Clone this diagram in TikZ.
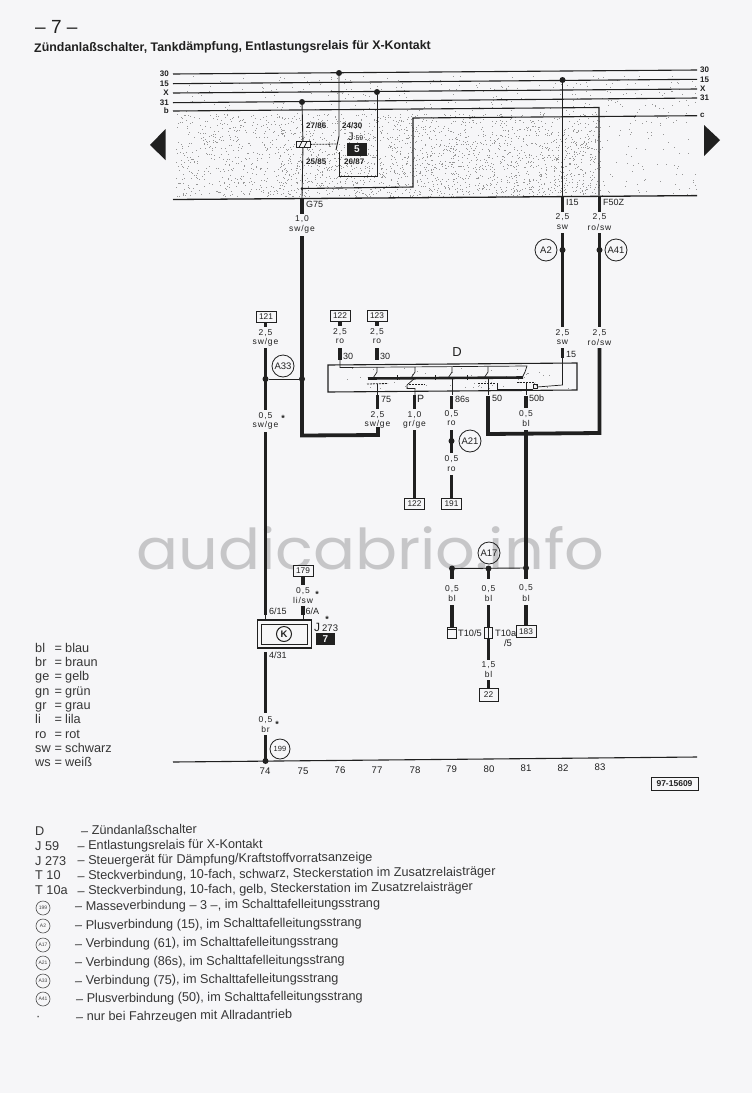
\documentclass[tikz,border=0pt]{standalone}
\usepackage{fontspec}
\setmainfont{Liberation Sans}
\newfontfamily\lblfam[LetterSpace=10]{Liberation Sans}
\newfontfamily\wmfam{Poppins}
\usetikzlibrary{calc}
\definecolor{paper}{RGB}{246,246,248}
\definecolor{ink}{RGB}{32,32,32}
\definecolor{wmark}{RGB}{198,198,200}
\definecolor{speck}{RGB}{150,150,150}
\tikzset{
  x=1pt,y=-1pt,
  busline/.style={draw=ink,line width=1.1pt},
  thinwire/.style={draw=ink,line width=0.9pt},
  fine/.style={draw=ink,line width=0.7pt},
  thickwire/.style={draw=ink,line width=3.8pt},
  minidash/.style={draw=ink,line width=0.8pt,dash pattern=on 2pt off 1pt},
  joint/.style={circle,fill=ink,inner sep=0pt,minimum size=6pt},
  lab/.style={inner sep=0pt,text=ink,font=\lblfam\fontsize{8.5}{9}\selectfont},
  tag/.style={inner sep=0pt,text=ink,anchor=west,font=\fontsize{9}{10}\selectfont},
  buslab/.style={inner sep=0pt,text=ink,font=\bfseries\fontsize{8}{9}\selectfont},
  numlab/.style={inner sep=0pt,text=ink,font=\fontsize{9.6}{10}\selectfont},
  refbox/.style={draw=ink,line width=1pt,fill=paper,inner sep=0pt,minimum width=20pt,minimum height=11pt,text=ink,font=\fontsize{8.3}{9}\selectfont},
  ringbig/.style={draw=ink,line width=0.8pt,circle,inner sep=0pt,minimum size=22pt,text=ink,font=\fontsize{9.5}{10}\selectfont},
  ringsmall/.style={draw=ink!80,line width=0.6pt,circle,inner sep=0pt,minimum size=14pt,text=ink!85,font=\fontsize{5}{6}\selectfont},
  legend/.style={inner sep=0pt,anchor=base west,rotate=0.6,text=ink!90,font=\fontsize{12.7}{14}\selectfont},
  colour/.style={inner sep=0pt,anchor=base west,text=ink!90,font=\fontsize{12.7}{14}\selectfont},
  blackbox/.style={fill=ink,inner sep=0pt,minimum width=19.5pt,minimum height=12.5pt,text=paper,font=\bfseries\fontsize{10}{11}\selectfont},
  relaytag/.style={inner sep=0pt,text=ink,anchor=west,font=\bfseries\fontsize{8}{9}\selectfont},
}
\newcommand{\tw}[4]{\coordinate (#1a) at (#2,#3);\coordinate (#1b) at (#2,#4);\draw[thickwire] (#1a) -- (#1b);}
\begin{document}
\begin{tikzpicture}
\useasboundingbox (0,0) rectangle (752,1093);
\fill[paper] (0,0) rectangle (752,1093);

% watermark
\node[anchor=south west,inner sep=0pt,text=wmark] (wm) at (136,570)
  {\resizebox{468pt}{43pt}{\wmfam audicabrio.info}};

% stipple of the hatched area
\pgfmathsetseed{7}
\foreach \i in {1,...,700}{
  \pgfmathrandominteger{\rx}{176}{696}
  \pgfmathrandominteger{\ry}{76}{196}
  \fill[speck] (\rx,\ry) rectangle +(0.9,0.9);
}
\foreach \i in {1,...,1500}{
  \pgfmathrandominteger{\rx}{176}{600}
  \pgfmathrandominteger{\ry}{114}{196}
  \fill[speck] (\rx,\ry) rectangle +(0.9,0.9);
}
\foreach \i in {1,...,500}{
  \pgfmathrandominteger{\rx}{280}{600}
  \pgfmathrandominteger{\ry}{130}{196}
  \fill[speck] (\rx,\ry) rectangle +(0.9,0.9);
}
\foreach \i in {1,...,50}{
  \pgfmathrandominteger{\rx}{335}{570}
  \pgfmathrandominteger{\ry}{368}{389}
  \fill[speck] (\rx,\ry) rectangle +(0.9,0.9);
}

% header
\node[inner sep=0pt,anchor=base west,text=ink,font=\fontsize{19}{20}\selectfont] (page) at (35,33) {– 7 –};
\node[inner sep=0pt,anchor=base west,rotate=0.4,text=ink,font=\bfseries\fontsize{12.4}{13}\selectfont] (title) at (34,52)
  {Zündanlaßschalter, Tankdämpfung, Entlastungsrelais für X-Kontakt};

% bus lines
\foreach \n/\t/\ya/\yb in {p/30/74/70,q/15/83.7/79.3,r/X/93/89,s/31/102.7/98}{
  \coordinate (\n L) at (173,\ya);
  \coordinate (\n R) at (697,\yb);
  \draw[busline] (\n L) -- (\n R);
  \node[buslab,anchor=east] (\n lab) at (169,\ya) {\t};
  \node[buslab,anchor=west] (\n rab) at (700,\yb) {\t};
}
\node[buslab,anchor=east] (blab) at (169,111) {b};
\node[buslab,anchor=west] (crab) at (700,115.5) {c};
\coordinate (bL) at (173,111);
\coordinate (bC) at (599,107.5);
\coordinate (bD) at (599,195.5);
\draw[busline] (bL) -- (bC) -- (bD);
\coordinate (cC) at (413,118);
\coordinate (cR) at (697,115.7);
\coordinate (cD) at (413,187);
\coordinate (cJ) at (302,188.5);
\draw[busline] (cJ) -- (cD) -- (cC) -- (cR);
\coordinate (topL) at (173,199.5);
\coordinate (topR) at (697,195.6);
\draw[line width=1.3pt,draw=ink] (topL) -- (topR);
\coordinate (botL) at (173,762);
\coordinate (botR) at (697,757);
\draw[line width=1.1pt,draw=ink] (botL) -- (botR);

% page-turn arrows
\fill[ink] (150,145) -- (165.5,129) -- (165.5,160) -- cycle;
\fill[ink] (720,140) -- (704,125) -- (704,156) -- cycle;

% relay J59
\node[joint] (d31) at (302,102) {};
\node[joint] (d30) at (339,73) {};
\node[joint] (dX)  at (377,92) {};
\node[joint,minimum size=3pt] (dcj) at (302,188.5) {};
\coordinate (g75t) at (302,198.5);
\node[draw=ink,line width=0.9pt,fill=paper,inner sep=0pt,minimum width=14pt,minimum height=6.5pt] (coil) at (303,144.5) {};
\draw[fine] (299,147.5) -- (302,141.5) (304,147.5) -- (307,141.5);
\coordinate (sw1) at (339,136);
\coordinate (sw2) at (336,150);
\coordinate (sw3) at (339,152);
\coordinate (swB) at (339,176);
\coordinate (xB) at (377,176);
\coordinate (dashEnd) at (337,144);
\draw[thinwire] (d31) -- (coil);
\draw[thinwire] (coil) -- (g75t);
\draw[thinwire] (d30) -- (sw1) -- (sw2);
\draw[thinwire] (sw3) -- (swB) -- (xB) -- (dX);
\draw[minidash] (coil) -- (dashEnd);
\node[relaytag] (t2786) at (306,126) {27/86};
\node[relaytag] (t2430) at (342,126) {24/30};
\node[relaytag] (t2585) at (306,162) {25/85};
\node[relaytag] (t2687) at (344,162) {26/87};
\node[inner sep=0pt,anchor=base west,text=ink,font=\fontsize{11}{12}\selectfont] (j59) at (348,140) {J\,\fontsize{7}{8}\selectfont 59};
\node[blackbox] (k5) at (357,149.5) {5};

% G75 wire
\tw{ga}{302}{199}{214}
\node[tag] (g75) at (306,204) {G75};
\node[lab] (v10) at (302,219) {1,0};
\node[lab] (c10) at (302,229) {sw/ge};
\coordinate (g1) at (302,236);
\coordinate (g2) at (302,435.5);
\coordinate (g3) at (378,435);
\coordinate (g4) at (378,427);
\draw[thickwire,line join=miter] (g1) -- (g2) -- (g3) -- (g4);

% wire 82
\node[joint] (d15) at (562.5,80) {};
\coordinate (a2t) at (562.5,197);
\draw[thinwire] (d15) -- (a2t);
\tw{ha}{562.5}{197}{212}
\node[tag] (i15) at (566,202) {I15};
\node[lab] (h1) at (562.5,217) {2,5};
\node[lab] (h2) at (562.5,227) {sw};
\tw{hb}{562.5}{233}{327}
\node[joint] (hj) at (562.5,250) {};
\node[ringbig] (A2) at (546,250) {A2};
\node[lab] (h3) at (562.5,333) {2,5};
\node[lab] (h4) at (562.5,342) {sw};
\tw{hc}{562.5}{348}{358}
\node[tag] (t15) at (566,354) {15};

% wire 83
\tw{ia}{599.5}{196}{212}
\node[tag] (f50) at (603,202) {F50Z};
\node[lab] (i1) at (599.5,217) {2,5};
\node[lab] (i2) at (599.5,227) {ro/sw};
\tw{ib}{599.5}{233}{327}
\node[joint] (ij) at (599.5,250) {};
\node[ringbig] (A41) at (616,250) {A41};
\node[lab] (i3) at (599.5,333) {2,5};
\node[lab] (i4) at (599.5,342) {ro/sw};
\coordinate (i5) at (599.5,348);
\coordinate (i6) at (599.5,433);
\coordinate (i7) at (488,434);
\coordinate (i8) at (488,396);
\draw[thickwire,line join=miter] (i5) -- (i6) -- (i7) -- (i8);
\node[tag] (t50) at (492,398) {50};

% left feed 74
\node[refbox] (r121) at (266,316.5) {121};
\tw{ja}{265.5}{322}{327}
\node[lab] (j1) at (265.5,333) {2,5};
\node[lab] (j2) at (265.5,342) {sw/ge};
\tw{jb}{265.5}{348}{410}
\node[ringbig] (A33) at (283,366) {A33};
\node[joint] (j79) at (265.5,379) {};
\node[joint] (g79) at (302,379) {};
\draw[thinwire] (j79) -- (g79);
\node[lab] (j3) at (265.5,416) {0,5};
\node[lab] (j4) at (265.5,425) {sw/ge};
\node[buslab,font=\bfseries\fontsize{9}{9}\selectfont] (s1) at (283,418) {*};
\tw{jc}{265.5}{432}{615}

% feeds 75/76
\node[refbox] (r122a) at (340,315.5) {122};
\tw{ka}{340}{321}{326}
\node[lab] (k1) at (340,332) {2,5};
\node[lab] (k2) at (340,341) {ro};
\tw{kb}{340}{348}{360}
\node[tag] (t30a) at (343,356) {30};
\node[refbox] (r123) at (377,315.5) {123};
\tw{la}{377}{321}{326}
\node[lab] (l1) at (377,332) {2,5};
\node[lab] (l2) at (377,341) {ro};
\tw{lb}{377}{348}{360}
\node[tag] (t30b) at (380,356) {30};

% switch D
\node[inner sep=0pt,text=ink,font=\fontsize{13}{14}\selectfont] (D) at (457,352) {D};
\coordinate (dA) at (328,365);
\coordinate (dB) at (577,363);
\coordinate (dC) at (577,390);
\coordinate (dE) at (328,392);
\draw[draw=ink,line width=1.1pt] (dA) -- (dB) -- (dC) -- (dE) -- cycle;
\coordinate (bar1) at (368,378.5);
\coordinate (bar2) at (523,377.5);
\draw[draw=ink,line width=2.6pt] (bar1) -- (bar2);
\draw[fine] (340,360) -- (340,367.5) -- (527,366) -- (525,372) -- (522,378);
\foreach \xx/\yy in {377/367,415/367,452/367,488/366.5}{
  \draw[fine] (\xx,\yy) -- (\xx,372) -- (\xx-4,378);
}
\foreach \xx in {397,435,467}{\draw[fine] (\xx,375) -- (\xx,380);}
\draw[minidash] (367,384) -- (388,383.5);
\draw[fine] (377,384) -- (377,395);
\draw[fine] (415,378) -- (407,385) -- (407,388.5) -- (415,388.5) -- (415,395);
\draw[minidash] (409,384) -- (425,384);
\draw[fine] (452,378) -- (452,395);
\draw[minidash] (478,383) -- (495,383);
\draw[fine] (488,378) -- (488,395);
\draw[fine] (497,383) -- (497,389) -- (533,389);
\draw[fine] (562.5,358) -- (562.5,385) -- (537,387);
\draw[minidash] (517,382.5) -- (535,382.5);
\draw[fine] (526,382) -- (526,395);
\draw[fine] (533,384) rectangle (537,388);

% below D
\tw{ma}{377.5}{395}{409}
\node[tag] (t75) at (381,399) {75};
\node[lab] (m1) at (377.5,415) {2,5};
\node[lab] (m2) at (377.5,424) {sw/ge};
\tw{na}{414.5}{395}{409}
\node[tag,font=\fontsize{10.5}{11}\selectfont] (tP) at (417,399) {P};
\node[lab] (n1) at (414.5,415) {1,0};
\node[lab] (n2) at (414.5,424) {gr/ge};
\tw{nb}{414.5}{430}{498}
\node[refbox] (r122b) at (414.5,503.5) {122};
\tw{oa}{451.5}{396}{409}
\node[tag] (t86) at (455,399.5) {86s};
\node[lab] (o1) at (451.5,414) {0,5};
\node[lab] (o2) at (451.5,423.5) {ro};
\tw{ob}{451.5}{430}{453}
\node[joint] (o3) at (451.5,441) {};
\node[ringbig] (A21) at (470,441) {A21};
\node[lab] (o4) at (451.5,459) {0,5};
\node[lab] (o5) at (451.5,469) {ro};
\tw{oc}{451.5}{475}{498}
\node[refbox] (r191) at (451.5,503.5) {191};
\tw{pa}{526}{396}{408}
\node[tag] (t50b) at (529,398.5) {50b};
\node[lab] (p1) at (526,414) {0,5};
\node[lab] (p2) at (526,423) {bl};
\tw{pb}{526}{430}{568}

% A17 group
\node[ringbig] (A17) at (489,553) {A17};
\node[joint] (q79) at (452,568.5) {};
\node[joint] (q80) at (488.5,568.5) {};
\node[joint] (q81) at (526,568) {};
\draw[thinwire] (q79) -- (q81);
\tw{qa}{452}{569}{579}
\node[lab] (q1) at (452,589.5) {0,5};
\node[lab] (q2) at (452,598.5) {bl};
\tw{qb}{452}{605}{627}
\node[draw=ink,line width=0.9pt,fill=paper,inner sep=0pt,minimum width=8.5pt,minimum height=11pt] (T105) at (452,632.5) {};
\draw[fine] (447.75,629) -- (456.25,629);
\node[inner sep=0pt,anchor=west,text=ink,font=\fontsize{9.2}{10}\selectfont] (T105l) at (458,633) {T10/5};
\tw{ra}{488.5}{569}{579}
\node[lab] (r1) at (488.5,589) {0,5};
\node[lab] (r2) at (488.5,598) {bl};
\tw{rb}{488.5}{605}{660}
\node[draw=ink,line width=0.9pt,fill=paper,inner sep=0pt,minimum width=8.5pt,minimum height=11pt] (T10a) at (488.5,632.5) {};
\draw[fine] (488.5,627) -- (488.5,638);
\node[inner sep=0pt,anchor=west,text=ink,font=\fontsize{9.2}{10}\selectfont] (T10al) at (495,633) {T10a};
\node[inner sep=0pt,text=ink,font=\fontsize{9.5}{10}\selectfont] (T10b) at (508,643.5) {/5};
\node[lab] (r3) at (488.5,665) {1,5};
\node[lab] (r4) at (488.5,674) {bl};
\tw{rc}{488.5}{680}{689}
\node[refbox,minimum width=19pt,minimum height=13pt] (r22) at (488.5,695) {22};
\tw{sa}{526}{569}{579}
\node[lab] (s2) at (526,588.5) {0,5};
\node[lab] (s3) at (526,598) {bl};
\tw{sb}{526}{605}{626}
\node[refbox,minimum height=11.5pt] (r183) at (526,631.5) {183};

% J273
\node[refbox] (r179) at (303,570.5) {179};
\tw{ta}{303}{576}{585}
\node[lab] (t1) at (303,591) {0,5};
\node[lab] (t2) at (303,600) {li/sw};
\node[buslab,font=\bfseries\fontsize{9}{9}\selectfont] (s2a) at (317,594) {*};
\tw{tb}{303}{606}{615}
\node[tag] (t615) at (269,611.5) {6/15};
\node[tag] (t6A) at (305.5,611.5) {6/A};
\coordinate (u1) at (265.5,615);
\coordinate (u2) at (265.5,620);
\coordinate (u3) at (303,615);
\coordinate (u4) at (303,620);
\draw[thinwire] (u1) -- (u2) (u3) -- (u4);
\node[draw=ink,line width=1.1pt,inner sep=0pt,minimum width=54.5pt,minimum height=28pt] (jout) at (284.5,634) {};
\node[draw=ink,line width=0.9pt,inner sep=0pt,minimum width=46pt,minimum height=20pt] (jin) at (284,634) {};
\node[draw=ink,line width=1pt,circle,inner sep=0pt,minimum size=15pt,fill=paper,text=ink,font=\bfseries\fontsize{9.5}{10}\selectfont] (K) at (284,634) {K};
\node[buslab,font=\bfseries\fontsize{9}{9}\selectfont] (s3a) at (327,619) {*};
\node[inner sep=0pt,anchor=base west,text=ink,font=\fontsize{12}{13}\selectfont] (J273) at (314,631) {J\,\fontsize{9.5}{10}\selectfont 273};
\node[blackbox] (k7) at (325.5,639) {7};
\node[tag] (t431) at (269,655) {4/31};
\tw{ua}{265.5}{652}{713}
\node[lab] (u5) at (265.5,720) {0,5};
\node[buslab,font=\bfseries\fontsize{9}{9}\selectfont] (s4) at (277,724) {*};
\node[lab] (u6) at (265.5,729) {br};
\tw{ub}{265.5}{735}{761}
\node[joint] (u7) at (265.5,761) {};
\node[ringbig,minimum size=20pt,font=\fontsize{7.5}{8}\selectfont] (R199) at (280,749) {199};

% column numbers
\foreach \n/\xx/\yy in {74/265/771,75/303/771,76/340/770.5,77/377/770.5,78/415/770,79/451.5/769.5,80/489/769,81/526/768.5,82/563/768,83/600/767.5}{
  \node[numlab] (col\n) at (\xx,\yy) {\n};
}
\node[draw=ink,line width=1pt,inner sep=0pt,minimum width=47pt,minimum height=13pt,text=ink,font=\bfseries\fontsize{8.5}{9}\selectfont] (ref) at (674.5,783.5) {97-15609};

% colour key
\foreach \k/\v/\yy in {bl/blau/652,br/braun/666,ge/gelb/680,gn/grün/695,gr/grau/709,li/lila/723,ro/rot/738,sw/schwarz/752,ws/weiß/766}{
  \node[colour] (k\k) at (35,\yy) {\k};
  \node[colour] (e\k) at (54.5,\yy) {=};
  \node[colour] (v\k) at (65,\yy) {\v};
}

% parts list
\node[colour] (pD) at (35,835) {D};
\node[colour] (pJ59) at (35,850) {J 59};
\node[colour] (pJ273) at (35,865) {J 273};
\node[colour] (pT10) at (35,879.5) {T 10};
\node[colour] (pT10a) at (35,894) {T 10a};
\node[legend] (tD) at (81,835) {– Zündanlaßschalter};
\node[legend] (tJ59) at (77.5,850) {– Entlastungsrelais für X-Kontakt};
\node[legend] (tJ273) at (77.5,864.5) {– Steuergerät für Dämpfung/Kraftstoffvorratsanzeige};
\node[legend] (tT10) at (77.5,880) {– Steckverbindung, 10-fach, schwarz, Steckerstation im Zusatzrelaisträger};
\node[legend] (tT10a) at (77.5,895) {– Steckverbindung, 10-fach, gelb, Steckerstation im Zusatzrelaisträger};
\foreach \lab/\txt/\yc/\yt/\dx in {
  199/Masseverbindung – 3 –{,} im Schalttafelleitungsstrang/908/910.5/75,
  A2/Plusverbindung (15){,} im Schalttafelleitungsstrang/926/929.5/75,
  A17/Verbindung (61){,} im Schalttafelleitungsstrang/945/948/75,
  A21/Verbindung (86s){,} im Schalttafelleitungsstrang/963/966.5/75,
  A33/Verbindung (75){,} im Schalttafelleitungsstrang/981/985/75,
  A41/Plusverbindung (50){,} im Schalttafelleitungsstrang/999/1003/76}{
  \node[ringsmall] (leg\lab) at (43,\yc) {\lab};
  \node[legend] (txt\lab) at (\dx,\yt) {– \txt};
}
\node[colour] (star) at (36,1020) {·};
\node[legend] (tstar) at (76,1021) {– nur bei Fahrzeugen mit Allradantrieb};
\end{tikzpicture}
\end{document}
